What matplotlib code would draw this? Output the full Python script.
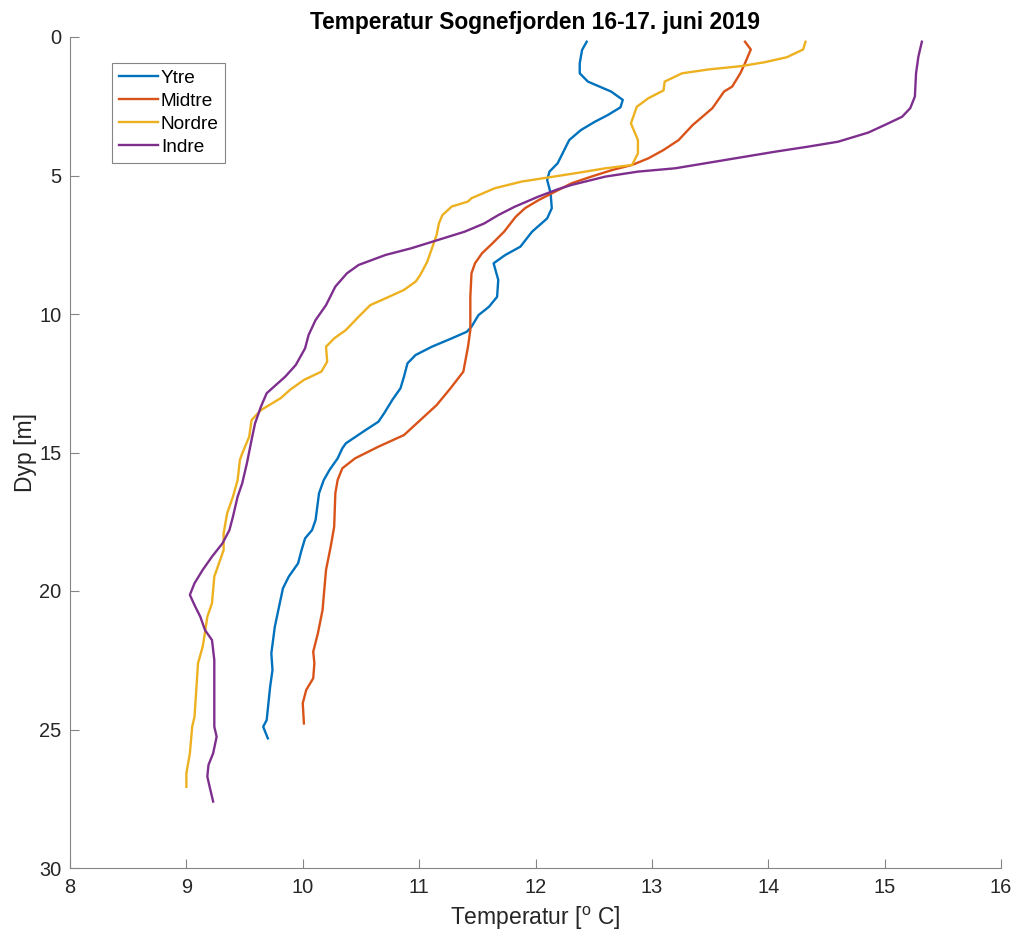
import matplotlib
matplotlib.use("Agg")
import matplotlib.pyplot as plt

plt.rcParams['font.family'] = ['Liberation Sans', 'DejaVu Sans']
plt.rcParams['mathtext.fontset'] = 'custom'
plt.rcParams['mathtext.rm'] = 'Liberation Sans'

# ---------------- data (depth [m], temperature [deg C]) ----------------
ytre_d = [0.17, 0.47, 0.95, 1.31, 1.61, 1.79, 1.97, 2.27, 2.54, 2.82, 3.06, 3.36, 3.72, 4.14,
          4.56, 4.86, 5.16, 5.64, 6.18, 6.55, 7.03, 7.57, 7.87, 8.17, 8.77, 9.38, 9.74, 10.04,
          10.46, 10.64, 10.88, 11.18, 11.48, 11.78, 12.26, 12.68, 13.1, 13.58, 13.89, 14.19,
          14.67, 14.85, 15.21, 15.63, 16.0, 16.47, 17.44, 17.8, 18.1, 18.52, 19.0, 19.48, 19.9,
          20.69, 21.29, 22.25, 22.85, 23.45, 24.66, 24.9, 25.32]
ytre_t = [12.44, 12.40, 12.38, 12.38, 12.45, 12.55, 12.65, 12.75, 12.73, 12.62, 12.51, 12.39,
          12.29, 12.24, 12.19, 12.12, 12.10, 12.13, 12.14, 12.10, 11.97, 11.87, 11.74, 11.64,
          11.68, 11.67, 11.60, 11.51, 11.45, 11.41, 11.28, 11.11, 10.97, 10.90, 10.87, 10.84,
          10.77, 10.70, 10.65, 10.54, 10.37, 10.34, 10.30, 10.23, 10.18, 10.14, 10.11, 10.08,
          10.02, 9.99, 9.96, 9.88, 9.83, 9.79, 9.76, 9.73, 9.74, 9.72, 9.69, 9.66, 9.70]

midtre_d = [0.17, 0.45, 0.95, 1.31, 1.79, 1.97, 2.57, 3.18, 3.72, 4.08, 4.38, 4.62, 4.80, 5.04,
            5.28, 5.58, 5.88, 6.18, 6.49, 7.03, 7.45, 7.81, 8.17, 8.53, 9.38, 10.58, 11.18,
            12.08, 12.68, 13.29, 13.83, 14.37, 14.79, 15.21, 15.57, 15.99, 16.47, 17.68, 18.4,
            19.24, 20.69, 21.53, 22.19, 22.61, 23.15, 23.57, 24.05, 24.78]
midtre_t = [13.80, 13.85, 13.80, 13.76, 13.69, 13.62, 13.52, 13.35, 13.23, 13.10, 12.97, 12.83,
            12.66, 12.48, 12.31, 12.17, 12.03, 11.91, 11.83, 11.73, 11.63, 11.54, 11.48, 11.45,
            11.44, 11.44, 11.42, 11.38, 11.27, 11.15, 11.01, 10.87, 10.65, 10.45, 10.34, 10.30,
            10.28, 10.27, 10.24, 10.20, 10.17, 10.13, 10.09, 10.10, 10.09, 10.03, 10.00, 10.01]

nordre_d = [0.17, 0.45, 0.73, 0.91, 1.05, 1.17, 1.31, 1.61, 1.93, 2.21, 2.52, 3.12, 3.72, 4.20,
            4.62, 4.74, 4.90, 5.07, 5.22, 5.46, 5.82, 5.94, 6.12, 6.43, 6.73, 7.15, 7.63, 8.11,
            8.59, 8.83, 9.13, 9.38, 9.68, 10.1, 10.58, 10.88, 11.18, 11.72, 12.08, 12.38, 12.74,
            13.04, 13.47, 13.83, 14.43, 15.03, 15.27, 16.0, 16.6, 17.2, 17.92, 18.52, 19.0,
            19.48, 20.44, 20.93, 21.77, 22.01, 22.61, 24.54, 24.9, 25.86, 26.58, 27.07]
nordre_t = [14.32, 14.30, 14.16, 13.97, 13.77, 13.49, 13.26, 13.11, 13.10, 12.97, 12.87, 12.82,
            12.88, 12.88, 12.83, 12.60, 12.37, 12.11, 11.88, 11.65, 11.45, 11.42, 11.28, 11.20,
            11.17, 11.15, 11.11, 11.07, 11.01, 10.97, 10.87, 10.74, 10.58, 10.48, 10.37, 10.27,
            10.20, 10.21, 10.16, 10.01, 9.89, 9.81, 9.64, 9.56, 9.54, 9.48, 9.46, 9.44, 9.40,
            9.35, 9.32, 9.32, 9.28, 9.24, 9.22, 9.18, 9.15, 9.14, 9.10, 9.07, 9.05, 9.03, 9.00,
            9.00]

indre_d = [0.17, 0.71, 1.31, 2.15, 2.57, 2.88, 3.12, 3.45, 3.78, 3.96, 4.14, 4.44, 4.74, 4.86,
           5.04, 5.34, 5.5, 5.77, 6.13, 6.43, 6.73, 7.03, 7.33, 7.63, 7.87, 8.23, 8.53, 9.01,
           9.68, 10.22, 10.76, 11.24, 11.84, 12.26, 12.86, 13.35, 13.95, 14.55, 15.39, 16.11,
           16.6, 17.32, 17.8, 18.28, 18.76, 19.24, 19.72, 20.14, 20.51, 20.93, 21.41, 21.77,
           22.49, 23.69, 24.9, 25.26, 25.86, 26.28, 26.7, 27.07, 27.6]
indre_t = [15.32, 15.29, 15.27, 15.26, 15.22, 15.15, 15.03, 14.86, 14.60, 14.34, 14.06, 13.63,
           13.20, 12.88, 12.60, 12.31, 12.19, 12.02, 11.82, 11.68, 11.56, 11.39, 11.16, 10.93,
           10.71, 10.48, 10.38, 10.28, 10.20, 10.11, 10.05, 10.02, 9.94, 9.85, 9.69, 9.64, 9.59,
           9.56, 9.52, 9.48, 9.44, 9.40, 9.37, 9.31, 9.22, 9.14, 9.07, 9.03, 9.07, 9.12, 9.16,
           9.22, 9.24, 9.24, 9.24, 9.26, 9.23, 9.19, 9.18, 9.20, 9.23]

labels = ['Ytre', 'Midtre', 'Nordre', 'Indre']
colors = ['#0072BD', '#D95319', '#EDB120', '#7E2F8E']
x_ticks = [8, 9, 10, 11, 12, 13, 14, 15, 16]
y_ticks = [0, 5, 10, 15, 20, 25, 30]
title = 'Temperatur Sognefjorden 16-17. juni 2019'
xlabel = 'Temperatur [$^{\\mathregular{o}}$ C]'
ylabel = 'Dyp [m]'

# ---------------- figure ----------------
W, H = 1018, 940
fig = plt.figure(figsize=(W / 100, H / 100), dpi=100)
ax = fig.add_axes([70 / W, 1 - 868 / H, 931 / W, 831 / H])

series = [(ytre_t, ytre_d), (midtre_t, midtre_d), (nordre_t, nordre_d), (indre_t, indre_d)]
for (t, d), lab, c in zip(series, labels, colors):
    ax.plot(t, d, color=c, lw=1.7, label=lab, solid_joinstyle='round')

ax.set_xlim(8, 16)
ax.set_ylim(30, 0)
ax.set_xticks(x_ticks)
ax.set_yticks(y_ticks)

txt = '#262626'
spine_c = '#858585'
for s in ['top', 'right']:
    ax.spines[s].set_visible(False)
for s in ['left', 'bottom']:
    ax.spines[s].set_color(spine_c)
    ax.spines[s].set_linewidth(0.8)
ax.tick_params(direction='in', length=6.7, width=0.8, color=spine_c,
               labelsize=14.4, labelcolor=txt)
ax.tick_params(axis='x', pad=7)
ax.tick_params(axis='y', pad=6)

ax.set_title(title, fontsize=16.4, fontweight='bold', color='black', pad=5.8)
ax.set_xlabel(xlabel, fontsize=16.5, color=txt, labelpad=6)
ax.set_ylabel(ylabel, fontsize=16.5, color=txt, labelpad=2)

leg = ax.legend(loc='upper left', bbox_to_anchor=((112 - 70) / 931, (868 - 63) / 831),
                borderaxespad=0, fontsize=13.7, handlelength=2.05, handletextpad=0.17,
                labelspacing=0.3, borderpad=0.35, fancybox=False, framealpha=1,
                edgecolor='#858585')
leg.get_frame().set_linewidth(0.8)
for t in leg.get_texts():
    t.set_color('black')

fig.savefig('out.png', dpi=100)
